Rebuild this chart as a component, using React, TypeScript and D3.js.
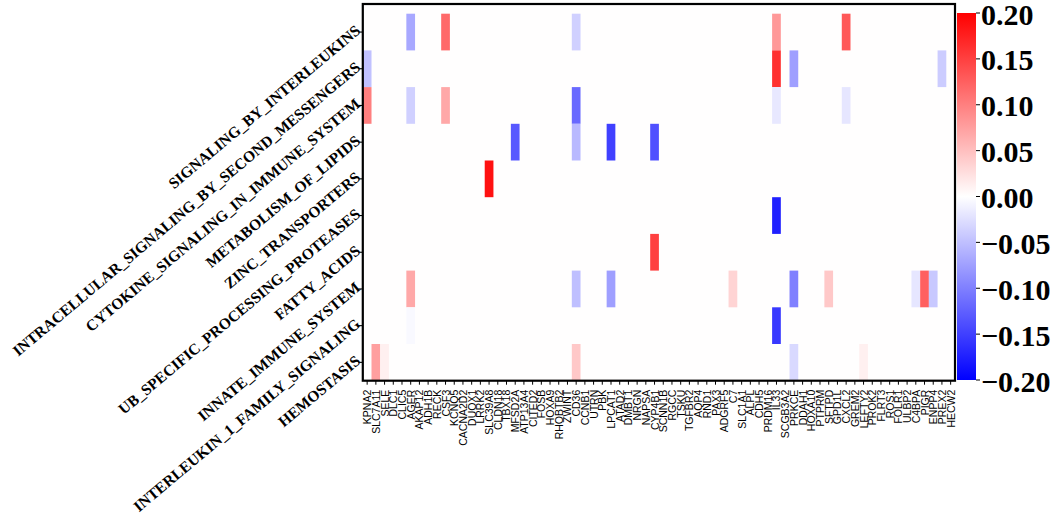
import React from 'react';
import * as d3 from 'd3';

const genes = [
  'KPNA2', 'SLC7A11', 'SELE', 'DLC1', 'CLIC5', 'AGER', 'AKAP12', 'ADH1B', 'RECK', 'CSF3',
  'KCNQ5', 'CACNA2D2', 'DUOX1', 'LRRK2', 'SLC39A8', 'CLDN18', 'TBX18', 'MFSD2A', 'ATP13A4', 'CITED2',
  'FOSB', 'HOXA9', 'RHOBTB2', 'ZWINT', 'CD36', 'CCNB1', 'UTRN', 'PBK', 'LPCAT1', 'ATAD2',
  'DMBT1', 'NRGN', 'NAPSA', 'CYP4B1', 'SCNN1B', 'RGCC', 'TSKU', 'TGFBR2', 'AQP4', 'RND1',
  'PAX3', 'ADGRF5', 'C7', 'SLC1A1', 'ALPL', 'CDH5', 'PRDM16', 'IL33', 'SCGB3A2', 'PRKCE',
  'DDAH1', 'HOXA10', 'PTPRM', 'SFTPD', 'GPD1L', 'CXCL2', 'GREM2', 'LEFTY2', 'PROK2', 'FLRT3',
  'ROS1', 'FOLR1', 'ULBP2', 'C4BPA', 'PIGR', 'ENPP4', 'PREX2', 'HECW2',
];

const pathways = [
  'SIGNALING_BY_INTERLEUKINS',
  'INTRACELLULAR_SIGNALING_BY_SECOND_MESSENGERS',
  'CYTOKINE_SIGNALING_IN_IMMUNE_SYSTEM',
  'METABOLISM_OF_LIPIDS',
  'ZINC_TRANSPORTERS',
  'UB_SPECIFIC_PROCESSING_PROTEASES',
  'FATTY_ACIDS',
  'INNATE_IMMUNE_SYSTEM',
  'INTERLEUKIN_1_FAMILY_SIGNALING',
  'HEMOSTASIS',
];

// non-zero cells per pathway: [gene, value]
const signalingByInterleukins: [string, number][] = [
  ['AGER', -0.068], ['CSF3', 0.118], ['CD36', -0.037], ['IL33', 0.081], ['CXCL2', 0.131],
];
const secondMessengers: [string, number][] = [
  ['KPNA2', -0.049], ['IL33', 0.162], ['PRKCE', -0.075], ['PREX2', -0.04],
];
const cytokineSignaling: [string, number][] = [
  ['KPNA2', 0.1], ['AGER', -0.037], ['CSF3', 0.068], ['CD36', -0.118], ['IL33', -0.018], ['CXCL2', -0.02],
];
const metabolismOfLipids: [string, number][] = [
  ['MFSD2A', -0.131], ['CD36', -0.055], ['LPCAT1', -0.15], ['CYP4B1', -0.137],
];
const zincTransporters: [string, number][] = [['SLC39A8', 0.187]];
const ubProteases: [string, number][] = [['IL33', -0.175]];
const fattyAcids: [string, number][] = [['CYP4B1', 0.15]];
const innateImmune: [string, number][] = [
  ['AGER', 0.068], ['CD36', -0.05], ['LPCAT1', -0.075], ['C7', 0.034], ['PRKCE', -0.1],
  ['SFTPD', 0.043], ['C4BPA', -0.02], ['PIGR', 0.125], ['ENPP4', -0.043],
];
const interleukin1: [string, number][] = [['AGER', -0.005], ['IL33', -0.156]];
const hemostasis: [string, number][] = [
  ['SLC7A11', 0.075], ['SELE', 0.012], ['CD36', 0.043], ['PRKCE', -0.03], ['LEFTY2', 0.012],
];

const rowValues = [
  signalingByInterleukins, secondMessengers, cytokineSignaling, metabolismOfLipids, zincTransporters,
  ubProteases, fattyAcids, innateImmune, interleukin1, hemostasis,
];

const colorTicks = [0.2, 0.15, 0.1, 0.05, 0, -0.05, -0.1, -0.15, -0.2];

const W = 1052;
const H = 519;
const plot = { left: 362.8, right: 955, top: 13.7, bottom: 380.7, frameTop: 4 };
const cbar = { x: 957, w: 19, top: 13, bottom: 380 };

// matplotlib "bwr": linear blue -> white -> red
const bwr = d3.piecewise(d3.interpolateRgb, ['#0000ff', '#ffffff', '#ff0000']);

export default function App() {
  const x = d3.scaleBand<string>().domain(genes).range([plot.left, plot.right]);
  const y = d3.scaleBand<string>().domain(pathways).range([plot.top, plot.bottom]);
  const color = d3.scaleSequential(bwr).domain([-0.2, 0.2]);
  const cy = d3.scaleLinear().domain([-0.2, 0.2]).range([cbar.bottom, cbar.top]);

  const cells = rowValues.flatMap((row, i) =>
    row.map(([g, v]) => ({ p: pathways[i], g, v }))
  );

  const fmt = (v: number) => (v < 0 ? '\u2212' : '') + Math.abs(v).toFixed(2);

  return (
    <svg width={W} height={H} style={{ display: 'block' }}>
      <style>{'body{margin:0}'}</style>
      <defs>
        <linearGradient id="cb" x1="0" y1="1" x2="0" y2="0">
          {d3.range(0, 1.0001, 0.1).map((t) => (
            <stop key={t} offset={t} stopColor={bwr(t)} />
          ))}
        </linearGradient>
      </defs>

      <rect x={plot.left} y={plot.frameTop} width={plot.right - plot.left}
        height={plot.bottom - plot.frameTop} fill={color(0.0005)} />

      {cells.map((c) => (
        <rect key={c.p + c.g} x={x(c.g)} y={y(c.p)} width={x.bandwidth()}
          height={y.bandwidth()} fill={color(c.v)} />
      ))}

      <rect x={plot.left} y={plot.frameTop} width={plot.right - plot.left}
        height={plot.bottom - plot.frameTop} fill="none" stroke="#000" strokeWidth={2.2} />

      {/* y axis */}
      {pathways.map((p) => {
        const yc = (y(p) as number) + y.bandwidth() / 2;
        return (
          <g key={p}>
            <line x1={plot.left - 4.5} x2={plot.left} y1={yc} y2={yc} stroke="#000" strokeWidth={1.1} />
            <text transform={`translate(${plot.left - 5},${yc - 4}) rotate(-40)`} textAnchor="end"
              dominantBaseline="central" fontFamily="'Liberation Serif', 'Times New Roman', serif"
              fontWeight="bold" fontSize={15.5}>{p}</text>
          </g>
        );
      })}

      {/* x axis */}
      {genes.map((g) => {
        const xc = (x(g) as number) + x.bandwidth() / 2;
        return (
          <g key={g}>
            <line x1={xc} x2={xc} y1={plot.bottom} y2={plot.bottom + 4} stroke="#000" strokeWidth={1} />
            <text transform={`translate(${xc},${plot.bottom + 9}) rotate(-90)`} textAnchor="end"
              dominantBaseline="central" fontFamily="'Liberation Sans', Arial, sans-serif"
              fontSize={10.5}>{g}</text>
          </g>
        );
      })}

      {/* colorbar */}
      <rect x={cbar.x} y={cbar.top} width={cbar.w} height={cbar.bottom - cbar.top} fill="url(#cb)" />
      {colorTicks.map((t) => (
        <g key={t}>
          <line x1={cbar.x + cbar.w} x2={cbar.x + cbar.w + 4} y1={cy(t)} y2={cy(t)} stroke="#000" strokeWidth={1} />
          <text x={cbar.x + cbar.w + 5} y={cy(t) + 1} dominantBaseline="central"
            fontFamily="'Liberation Serif', 'Times New Roman', serif" fontWeight="bold"
            fontSize={30}>{fmt(t)}</text>
        </g>
      ))}
    </svg>
  );
}
